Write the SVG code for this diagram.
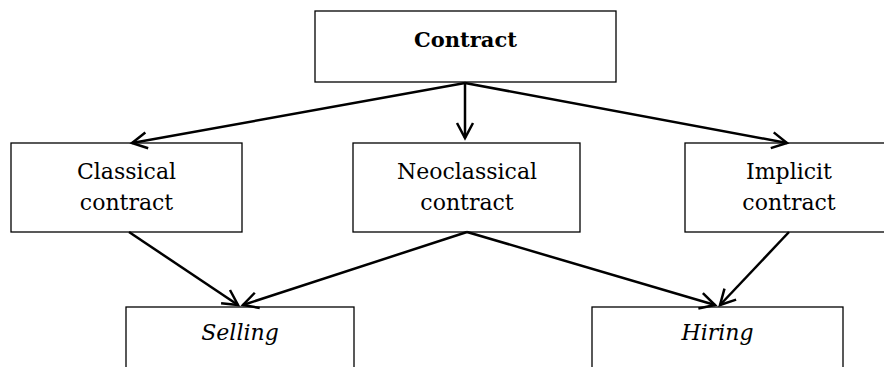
<svg xmlns="http://www.w3.org/2000/svg" width="884" height="367" viewBox="0 0 884 367">
<defs>
<marker id="ah" markerUnits="userSpaceOnUse" markerWidth="30" markerHeight="30" viewBox="-20 -15 30 30" refX="0" refY="0" orient="auto">
<path d="M-15,-8 L0,0 L-15,8" fill="none" stroke="#000" stroke-width="2.5"/>
</marker>
</defs>
<style>
.box{fill:#fff;stroke:#000;stroke-width:1.3}
.t{font-family:"DejaVu Serif","Liberation Serif",serif;font-size:22px;text-anchor:middle;fill:#000}
.b{font-weight:bold;font-size:21px}
.i{font-style:italic}
.c{stroke:#000;stroke-width:2.5;fill:none;marker-end:url(#ah)}
</style>
<rect width="884" height="367" fill="#fff"/>
<g id="contract"><rect class="box" x="315" y="11" width="301" height="71"/><text class="t b" x="465.5" y="47">Contract</text></g>
<g id="classical"><rect class="box" x="11" y="143" width="231" height="89"/><text class="t" x="126.5" y="179">Classical</text><text class="t" x="126.5" y="210">contract</text></g>
<g id="neoclassical"><rect class="box" x="353" y="143" width="227" height="89"/><text class="t" x="467" y="179">Neoclassical</text><text class="t" x="467" y="210">contract</text></g>
<g id="implicit"><rect class="box" x="685" y="143" width="210" height="89"/><text class="t" x="789" y="179">Implicit</text><text class="t" x="789" y="210">contract</text></g>
<g id="selling"><rect class="box" x="126" y="307" width="228" height="80"/><text class="t i" x="240" y="340">Selling</text></g>
<g id="hiring"><rect class="box" x="592" y="307" width="251" height="80"/><text class="t i" x="717.5" y="340">Hiring</text></g>
<g id="connectors">
<line class="c" x1="465" y1="83" x2="132" y2="143"/>
<line class="c" x1="465" y1="83" x2="465" y2="138"/>
<line class="c" x1="465" y1="83" x2="787" y2="143"/>
<line class="c" x1="129" y1="232" x2="238" y2="305"/>
<line class="c" x1="467" y1="232" x2="243" y2="305"/>
<line class="c" x1="467" y1="232" x2="715" y2="305"/>
<line class="c" x1="789" y1="232" x2="720" y2="305"/>
</g>
</svg>
